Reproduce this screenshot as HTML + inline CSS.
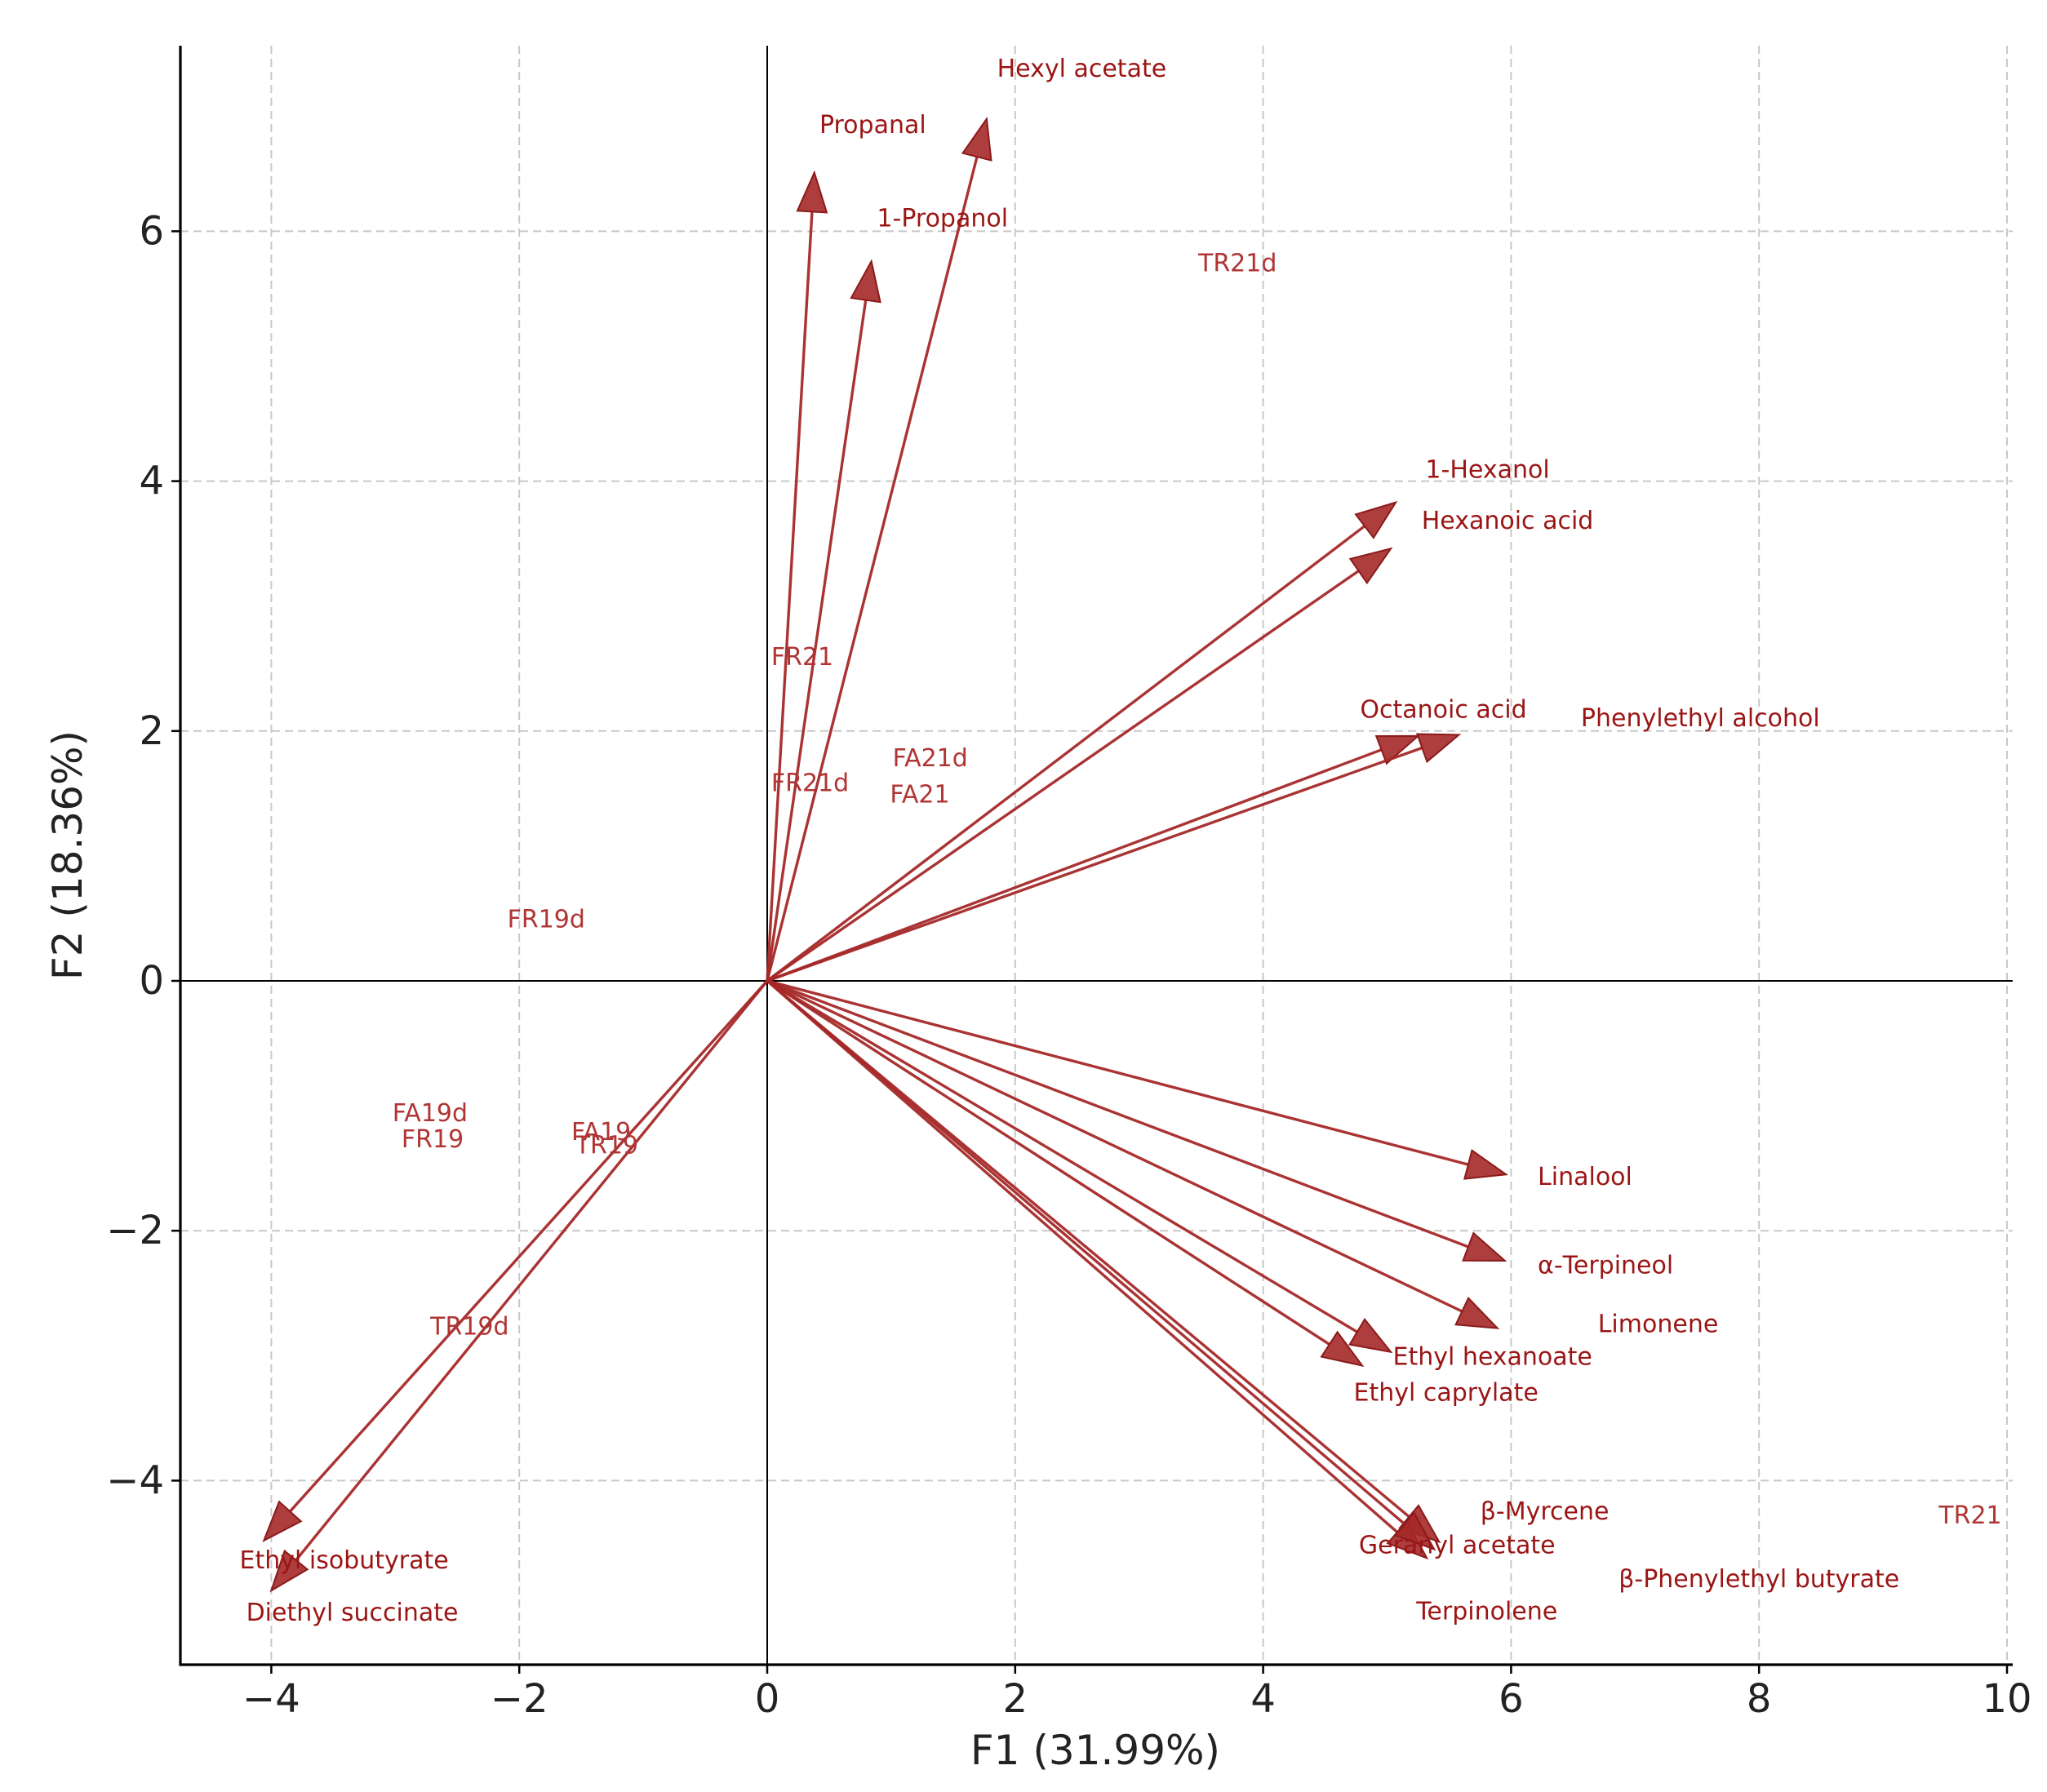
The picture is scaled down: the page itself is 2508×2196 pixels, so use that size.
<!DOCTYPE html>
<html><head><meta charset="utf-8"><style>
html,body{margin:0;padding:0;background:#fff;}
svg{display:block;font-family:"DejaVu Sans","Liberation Sans",sans-serif;}
</style></head><body>
<svg id="chart" width="2508" height="2196" viewBox="0 0 2508 2196" xmlns="http://www.w3.org/2000/svg"></svg>
<script>
const varNames = ["Propanal","Hexyl acetate","1-Propanol","1-Hexanol","Hexanoic acid","Octanoic acid","Phenylethyl alcohol","Linalool","α-Terpineol","Limonene","Ethyl hexanoate","Ethyl caprylate","β-Myrcene","Geranyl acetate","Terpinolene","Ethyl isobutyrate","Diethyl succinate"];
const varX = [0.38,1.77,0.84,5.07,5.03,5.25,5.58,5.96,5.95,5.89,5.03,4.80,5.42,5.32,5.38,-4.06,-4.00];
const varY = [6.47,6.90,5.76,3.83,3.46,1.96,1.97,-1.55,-2.24,-2.78,-2.97,-3.08,-4.49,-4.62,-4.55,-4.48,-4.88];
const labelText = ["Hexyl acetate","Propanal","1-Propanol","TR21d","1-Hexanol","Hexanoic acid","FR21","Octanoic acid","Phenylethyl alcohol","FA21d","FR21d","FA21","FR19d","FA19d","FR19","FA19","TR19","Linalool","α-Terpineol","Limonene","TR19d","Ethyl hexanoate","Ethyl caprylate","β-Myrcene","TR21","Geranyl acetate","Ethyl isobutyrate","β-Phenylethyl butyrate","Diethyl succinate","Terpinolene"];
const labelX = [1.854,0.421,0.885,3.476,5.309,5.278,0.032,4.782,6.563,1.011,0.032,0.990,-2.096,-3.023,-2.950,-1.580,-1.549,6.215,6.215,6.700,-2.718,5.046,4.730,5.752,9.449,4.772,-4.256,6.868,-4.203,5.235];
const labelY = [7.30,6.85,6.10,5.74,4.09,3.68,2.59,2.17,2.10,1.78,1.58,1.49,0.49,-1.06,-1.27,-1.21,-1.32,-1.57,-2.28,-2.75,-2.77,-3.01,-3.30,-4.25,-4.28,-4.52,-4.64,-4.79,-5.06,-5.05];
const labelIsSample = [0,0,0,1,0,0,1,0,0,1,1,1,1,1,1,1,1,0,0,0,1,0,0,0,1,0,0,0,0,0];
const xTicks = [-4,-2,0,2,4,6,8,10];
const yTicks = [-4,-2,0,2,4,6];

const NS="http://www.w3.org/2000/svg";
const svg=document.getElementById('chart');
const X0=940, XS=151.9, Y0=1202, YS=153.1;
const sx=v=>X0+v*XS, sy=v=>Y0-v*YS;
const L=221, R=2466, T=56, B=2040;
function mk(tag,attrs,parent){const e=document.createElementNS(NS,tag);for(const k in attrs)e.setAttribute(k,attrs[k]);(parent||svg).appendChild(e);return e;}
function tickLabel(v){return v<0?'\u2212'+Math.abs(v):String(v);}

xTicks.forEach(v=>{
  const g=mk('line',{x1:sx(v),x2:sx(v),y1:T,y2:B,stroke:'#c8c8c8','stroke-width':2,'stroke-dasharray':'10,6'});
  
  
});
yTicks.forEach(v=>{
  const g=mk('line',{x1:L,x2:R,y1:sy(v),y2:sy(v),stroke:'#c8c8c8','stroke-width':2,'stroke-dasharray':'10,6'});
  
  
});
const zh=mk('line',{x1:L,x2:R,y1:sy(0),y2:sy(0),stroke:'#000','stroke-width':2});


const zv=mk('line',{x1:sx(0),x2:sx(0),y1:T,y2:B,stroke:'#000','stroke-width':2});



varX.forEach((vx,i)=>{
  const g=mk('g',{});
  
  
  const tx=sx(vx), ty=sy(varY[i]), ox=sx(0), oy=sy(0);
  const dx=tx-ox, dy=ty-oy, len=Math.hypot(dx,dy), ux=dx/len, uy=dy/len;
  const hl=48, hw=18;
  const bx=tx-ux*hl, by=ty-uy*hl;
  mk('line',{x1:ox,y1:oy,x2:bx,y2:by,stroke:'#a52828','stroke-width':3.4,'stroke-opacity':0.95},g);
  const pts=[[tx,ty],[bx-uy*hw,by+ux*hw],[bx+uy*hw,by-ux*hw]].map(p=>p.join(',')).join(' ');
  mk('polygon',{points:pts,fill:'#a52828','fill-opacity':0.9,stroke:'#8b1a1a','stroke-width':2},g);
});

labelText.forEach((t,i)=>{
  const e=mk('text',{x:sx(labelX[i]),y:sy(labelY[i]),'font-size':30,'dominant-baseline':'central',fill:labelIsSample[i]?'#b03535':'#9b1515'});
  e.textContent=t;
  
  
});

const sl=mk('line',{x1:L,x2:L,y1:T,y2:B+1.5,stroke:'#000','stroke-width':3.2});


const sb=mk('line',{x1:L-1.5,x2:R,y1:B,y2:B,stroke:'#000','stroke-width':3.2});



xTicks.forEach(v=>{
  const tk=mk('line',{x1:sx(v),x2:sx(v),y1:B,y2:B+11,stroke:'#000','stroke-width':2.5});
  
  
  const t=mk('text',{x:sx(v),y:B+58,'font-size':48,'text-anchor':'middle',fill:'#222'});
  t.textContent=tickLabel(v);
  
  
});
yTicks.forEach(v=>{
  const tk=mk('line',{x1:L-11,x2:L,y1:sy(v),y2:sy(v),stroke:'#000','stroke-width':2.5});
  
  
  const t=mk('text',{x:L-20,y:sy(v),'font-size':48,'text-anchor':'end','dominant-baseline':'central',fill:'#222'});
  t.textContent=tickLabel(v);
  
  
});

const xt=mk('text',{x:1342,y:2162,'font-size':50,'text-anchor':'middle',fill:'#222'});
xt.textContent='F1 (31.99%)';


const yt=mk('text',{x:0,y:0,'font-size':50,'text-anchor':'middle',fill:'#222',transform:'translate(100,1048) rotate(-90)'});
yt.textContent='F2 (18.36%)';


</script>
</body></html>
